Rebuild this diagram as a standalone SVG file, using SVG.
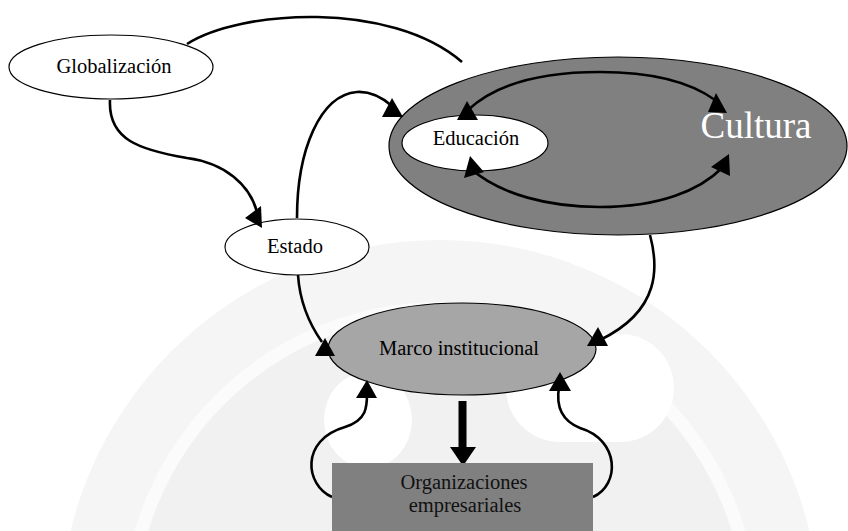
<svg xmlns="http://www.w3.org/2000/svg" width="848" height="531" viewBox="0 0 848 531">
  <style>
    text { font-family: "Liberation Serif", "Times New Roman", Times, serif; }
    .lbl { font-size: 20.5px; fill: #000; text-anchor: middle; }
    .node { stroke: #000; stroke-width: 1.2; }
    .edge { fill: none; stroke: #000; stroke-width: 2.6; }
    .head { fill: #000; stroke: none; }
  </style>
  <rect x="0" y="0" width="848" height="531" fill="#ffffff"/>
  <g id="watermark">
    <circle cx="440" cy="620" r="380" fill="#f5f5f5"/>
    <circle cx="440" cy="620" r="318" fill="#fbfbfb"/>
    <circle cx="440" cy="620" r="305" fill="#f1f1f1"/>
    <ellipse cx="368" cy="420" rx="44" ry="48" fill="#ffffff"/>
    <rect x="506" y="334" width="168" height="108" rx="54" fill="#ffffff"/>
  </g>

  <g id="n-cultura">
    <ellipse cx="618" cy="146" rx="229" ry="89" fill="#808080" class="node"/>
    <text x="756" y="138" class="lbl" font-family="Liberation Serif, serif" style="font-size:37px; fill:#ffffff">Cultura</text>
  </g>

  <g id="connectors">
    <path class="edge" d="M187,44 C240,10 390,0 462,62"/>
    <path class="edge" d="M110,100 C108,140 140,150 187,158 C225,163 250,185 257,212"/>
    <path class="edge" d="M297,218 C297,150 320,95 357,92 C372,91 385,100 392,106"/>
    <path class="edge" d="M650,235 C658,265 662,310 600,340"/>
    <path class="edge" d="M298,275 C300,305 310,325 322,342"/>
    <path class="edge" d="M332,497 C305,485 300,440 345,427 C368,420 367,405 367,392"/>
    <path class="edge" d="M593,497 C620,485 620,440 580,428 C560,420 556,405 559,387"/>
    <path class="edge" d="M468,110 C500,80 550,72 600,72 C650,72 690,82 715,100"/>
    <path class="edge" d="M470,168 C500,195 550,207 600,207 C660,207 700,190 722,168"/>
    <rect x="458.5" y="401" width="8" height="48" fill="#000"/>
    <polygon class="head" points="450,447 476,447 463,466"/>
  </g>

  <g id="n-globalizacion">
    <ellipse cx="111" cy="67" rx="102" ry="32" fill="#ffffff" class="node"/>
    <text x="114" y="73" class="lbl" font-family="Liberation Serif, serif">Globalización</text>
  </g>

  <g id="n-estado">
    <ellipse cx="297" cy="247" rx="72" ry="28" fill="#ffffff" class="node"/>
    <text x="295" y="253" class="lbl" font-family="Liberation Serif, serif">Estado</text>
  </g>

  <g id="n-educacion">
    <ellipse cx="475" cy="143" rx="73" ry="28" fill="#ffffff" class="node"/>
    <text x="476" y="145" class="lbl" font-family="Liberation Serif, serif">Educación</text>
  </g>

  <g id="n-marco">
    <ellipse cx="462" cy="349" rx="134" ry="46" fill="#a6a6a6" class="node"/>
    <text x="459" y="355" class="lbl" font-family="Liberation Serif, serif">Marco institucional</text>
  </g>

  <g id="n-organizaciones">
    <rect x="332" y="463" width="261" height="70" fill="#808080"/>
    <text x="464" y="489" class="lbl" font-family="Liberation Serif, serif" style="fill:#111">Organizaciones</text>
    <text x="465" y="512" class="lbl" font-family="Liberation Serif, serif" style="fill:#111">empresariales</text>
  </g>

  <g id="arrowheads">
    <polygon class="head" points="392,98 382,117 403,117"/>
    <polygon class="head" points="467,101 457,120 478,120"/>
    <polygon class="head" points="470,156 464,178 484,172"/>
    <polygon class="head" points="716,93 708,112 727,113"/>
    <polygon class="head" points="729,154 711,167 730,176"/>
    <polygon class="head" points="261,206 245,218 262,228"/>
    <polygon class="head" points="325,338 315,356 335,356"/>
    <polygon class="head" points="367,380 356,398 377,398"/>
    <polygon class="head" points="598,327 587,346 608,346"/>
    <polygon class="head" points="560,372 549,391 571,391"/>
  </g>
</svg>
